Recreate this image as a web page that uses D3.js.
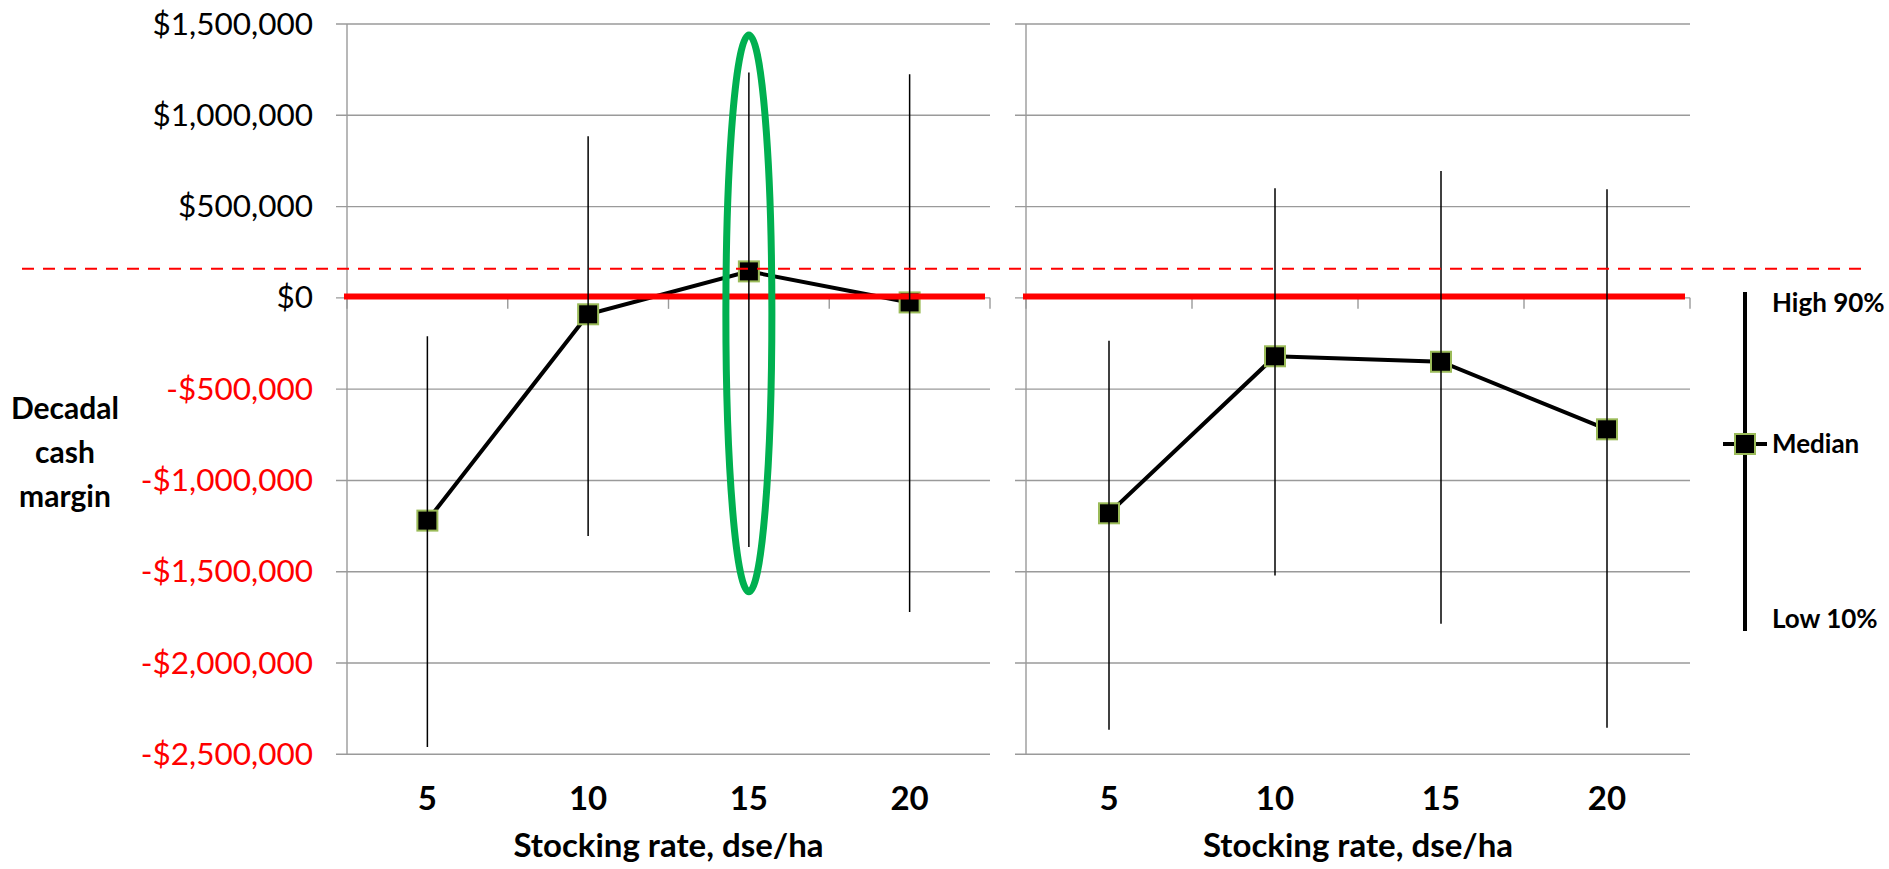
<!DOCTYPE html>
<html>
<head>
<meta charset="utf-8">
<script src="https://cdn.jsdelivr.net/npm/d3@7"></script>
<style>
  body { margin: 0; background: #fff; }
  svg { display: block; font-family: "Lato", "Open Sans", sans-serif; }
  .ylbl { font-size: 31.5px; }
  .xlbl { font-size: 33px; font-weight: bold; }
  .ttl { font-size: 30px; font-weight: bold; }
  .leg { font-size: 26px; font-weight: bold; }
</style>
</head>
<body>
<svg width="1889" height="869"></svg>
<script>
// stocking rates (dse/ha)
var rates = ["5", "10", "15", "20"];

// left panel: decadal cash margin, 10% / median / 90%
var leftMedian = [-1220000, -90000, 145000, -25000];
var leftHigh = [-210000, 885000, 1235000, 1225000];
var leftLow = [-2460000, -1305000, -1365000, -1720000];

// right panel
var rightMedian = [-1180000, -320000, -350000, -720000];
var rightHigh = [-235000, 600000, 695000, 595000];
var rightLow = [-2365000, -1520000, -1785000, -2355000];

var yTicks = [1500000, 1000000, 500000, 0, -500000, -1000000, -1500000, -2000000, -2500000];
var breakEven = 8000;       // solid red line
var target = 160000;        // dashed red line
var highlight = {rate: "15", top: 1440000, bottom: -1610000};  // green ellipse

var legendText = ["High 90%", "Median", "Low 10%"];

var svg = d3.select("svg");

var y = d3.scaleLinear().domain([-2500000, 1500000]).range([754.3, 24]);

var fmt = function(v) {
  return (v < 0 ? "-" : "") + "$" + d3.format(",")(Math.abs(v));
};

var panels = [
  {x0: 347, x1: 990, med: leftMedian, hi: leftHigh, lo: leftLow, labels: true},
  {x0: 1026, x1: 1690, med: rightMedian, hi: rightHigh, lo: rightLow, labels: false}
];

panels.forEach(function(p) {
  var x = d3.scaleBand().domain(rates).range([p.x0, p.x1]);
  p.x = x;
  var cx = function(d) { return x(d) + x.bandwidth() / 2; };
  var g = svg.append("g");

  // gridlines
  g.selectAll(".grid")
    .data(yTicks)
    .enter().append("line")
    .attr("x1", p.x0 - 11).attr("x2", p.x1)
    .attr("y1", function(d) { return y(d); })
    .attr("y2", function(d) { return y(d); })
    .attr("stroke", "#9a9a9a").attr("stroke-width", 1.4);

  // vertical axis
  g.append("line")
    .attr("x1", p.x0).attr("x2", p.x0)
    .attr("y1", y(1500000)).attr("y2", y(-2500000))
    .attr("stroke", "#9a9a9a").attr("stroke-width", 1.4);

  // category ticks on the zero line
  var edges = rates.map(function(d) { return x(d); }).concat([p.x1]);
  g.selectAll(".xt")
    .data(edges)
    .enter().append("line")
    .attr("x1", function(d) { return d; }).attr("x2", function(d) { return d; })
    .attr("y1", y(0)).attr("y2", y(0) + 11)
    .attr("stroke", "#9a9a9a").attr("stroke-width", 1.4);

  if (p.labels) {
    var ax = d3.axisLeft(y).tickValues(yTicks).tickSize(0).tickPadding(34).tickFormat(fmt);
    var axg = g.append("g").attr("transform", "translate(" + p.x0 + ",0)").call(ax);
    axg.select(".domain").remove();
    axg.attr("font-size", null).attr("font-family", null);
    axg.selectAll("text")
      .attr("class", "ylbl")
      .attr("fill", function(d) { return d < 0 ? "#ff0000" : "#000"; });
  }

  // x tick labels
  g.selectAll(".xl")
    .data(rates)
    .enter().append("text")
    .attr("class", "xlbl")
    .attr("x", cx)
    .attr("y", 810)
    .attr("text-anchor", "middle")
    .text(function(d) { return d; });

  g.append("text")
    .attr("class", "xlbl")
    .attr("x", (p.x0 + p.x1) / 2)
    .attr("y", 857)
    .attr("text-anchor", "middle")
    .text("Stocking rate, dse/ha");

  var pts = rates.map(function(r, i) {
    return {r: r, med: p.med[i], hi: p.hi[i], lo: p.lo[i]};
  });

  // median line
  g.append("path")
    .datum(pts)
    .attr("fill", "none")
    .attr("stroke", "#000")
    .attr("stroke-width", 4)
    .attr("d", d3.line().x(function(d) { return cx(d.r); }).y(function(d) { return y(d.med); }));

  // markers
  g.selectAll(".mk")
    .data(pts)
    .enter().append("rect")
    .attr("x", function(d) { return cx(d.r) - 10; })
    .attr("y", function(d) { return y(d.med) - 10; })
    .attr("width", 20).attr("height", 20)
    .attr("fill", "#000")
    .attr("stroke", "#9bbb59").attr("stroke-width", 2);

  // break-even line
  g.append("line")
    .attr("x1", p.x0 - 3).attr("x2", p.x1 - 5)
    .attr("y1", y(breakEven)).attr("y2", y(breakEven))
    .attr("stroke", "#ff0000").attr("stroke-width", 6);

  // 10%-90% range bars
  g.selectAll(".eb")
    .data(pts)
    .enter().append("line")
    .attr("x1", function(d) { return cx(d.r); })
    .attr("x2", function(d) { return cx(d.r); })
    .attr("y1", function(d) { return y(d.hi); })
    .attr("y2", function(d) { return y(d.lo); })
    .attr("stroke", "#000").attr("stroke-width", 1.5);
});

// dashed target line across both panels
svg.append("line")
  .attr("x1", 22).attr("x2", 1865)
  .attr("y1", y(target)).attr("y2", y(target))
  .attr("stroke", "#ff0000").attr("stroke-width", 2)
  .attr("stroke-dasharray", "12,9");

// highlight ellipse on the left panel
var hx = panels[0].x;
svg.append("ellipse")
  .attr("cx", hx(highlight.rate) + hx.bandwidth() / 2)
  .attr("cy", (y(highlight.top) + y(highlight.bottom)) / 2)
  .attr("rx", 23)
  .attr("ry", (y(highlight.bottom) - y(highlight.top)) / 2)
  .attr("fill", "none")
  .attr("stroke", "#00b050")
  .attr("stroke-width", 7);

// y axis title
svg.append("text")
  .attr("class", "ttl")
  .attr("text-anchor", "middle")
  .selectAll("tspan")
  .data(["Decadal", "cash", "margin"])
  .enter().append("tspan")
  .attr("x", 65)
  .attr("y", function(d, i) { return 419 + i * 44; })
  .text(function(d) { return d; });

// legend
var lg = svg.append("g");
var lx = 1745, lTop = 292, lBot = 631, lMid = 444;
lg.append("line").attr("x1", lx).attr("x2", lx).attr("y1", lTop).attr("y2", lBot)
  .attr("stroke", "#000").attr("stroke-width", 4);
lg.append("line").attr("x1", lx - 22).attr("x2", lx + 22).attr("y1", lMid).attr("y2", lMid)
  .attr("stroke", "#000").attr("stroke-width", 4);
lg.append("rect").attr("x", lx - 10).attr("y", lMid - 10).attr("width", 20).attr("height", 20)
  .attr("fill", "#000").attr("stroke", "#9bbb59").attr("stroke-width", 2);
lg.selectAll(".lt")
  .data(legendText)
  .enter().append("text")
  .attr("class", "leg")
  .attr("x", 1772)
  .attr("y", function(d, i) { return [312, 453, 628][i]; })
  .text(function(d) { return d; });
</script>
</body>
</html>
